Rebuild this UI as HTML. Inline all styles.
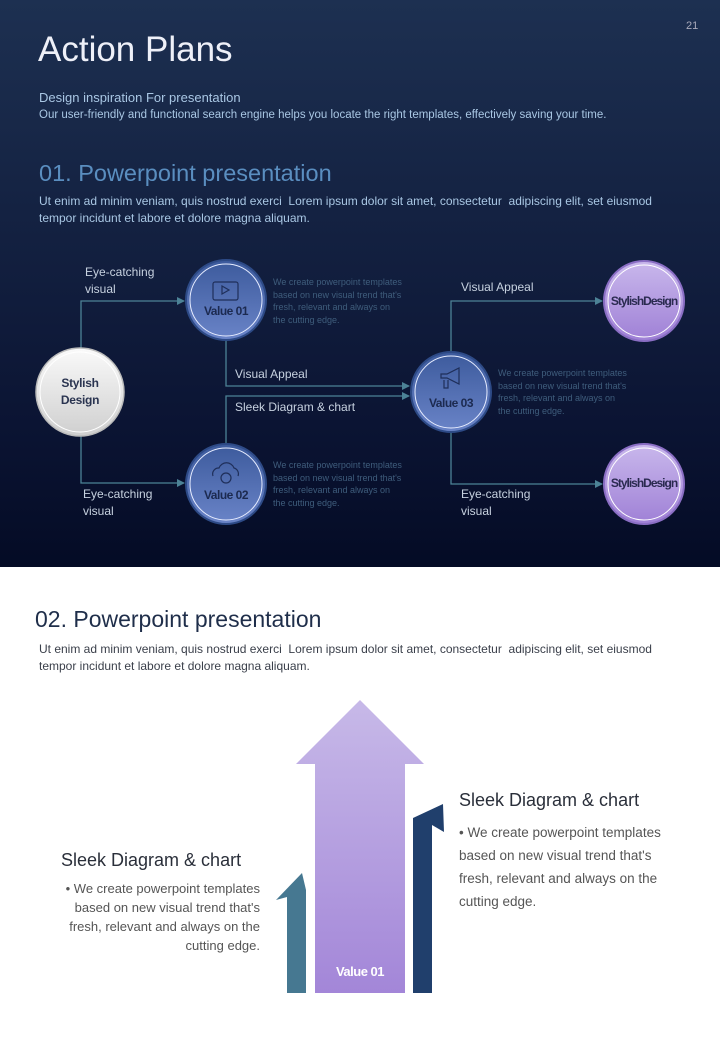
<!DOCTYPE html>
<html><head><meta charset="utf-8"><style>
*{margin:0;padding:0}
body{width:720px;height:1040px;position:relative;background:#fff;font-family:"Liberation Sans Narrow","Liberation Sans",sans-serif;overflow:hidden}
.t{position:absolute;white-space:nowrap}
</style></head><body>
<svg width="720" height="1040" style="position:absolute;left:0;top:0">
<defs>
<linearGradient id="bg" x1="0" y1="0" x2="0" y2="1"><stop offset="0" stop-color="#1d3051"/><stop offset="0.75" stop-color="#0b1433"/><stop offset="1" stop-color="#040b25"/></linearGradient>
<linearGradient id="bl" x1="0" y1="0" x2="0" y2="1"><stop offset="0" stop-color="#3c5a9c"/><stop offset="1" stop-color="#6a84c8"/></linearGradient>
<linearGradient id="wh" x1="0" y1="0" x2="0" y2="1"><stop offset="0" stop-color="#fafafa"/><stop offset="1" stop-color="#cfcfcf"/></linearGradient>
<linearGradient id="pu" x1="0" y1="0" x2="0" y2="1"><stop offset="0" stop-color="#c9b8ec"/><stop offset="1" stop-color="#9f80d6"/></linearGradient>
<linearGradient id="ar" x1="0" y1="0" x2="0" y2="1"><stop offset="0" stop-color="#c7b9e8"/><stop offset="1" stop-color="#a386d8"/></linearGradient>
<marker id="m" markerWidth="8" markerHeight="8" refX="7" refY="4" orient="auto" markerUnits="userSpaceOnUse"><path d="M0,0 L8,4 L0,8z" fill="#4c8296"/></marker>
</defs>
<rect width="720" height="567" fill="url(#bg)"/>
<g stroke="#4c8296" stroke-width="1.3" fill="none">
<path d="M81,350 V301 H184" marker-end="url(#m)"/>
<path d="M81,435 V483 H184" marker-end="url(#m)"/>
<path d="M226,340 V386 H409" marker-end="url(#m)"/>
<path d="M226,444 V396 H409" marker-end="url(#m)"/>
<path d="M451,352 V301 H602" marker-end="url(#m)"/>
<path d="M451,432 V484 H602" marker-end="url(#m)"/>
</g>
<circle cx="80" cy="392" r="44" fill="url(#wh)" stroke="#bbb" stroke-width="1.5"/>
<circle cx="80" cy="392" r="40" fill="none" stroke="#fff" stroke-width="1"/>
<g>
<circle cx="226" cy="300" r="40" fill="url(#bl)" stroke="#2d4a86" stroke-width="2"/><circle cx="226" cy="300" r="36" fill="none" stroke="#e6ecff" stroke-width="1"/>
<circle cx="226" cy="484" r="40" fill="url(#bl)" stroke="#2d4a86" stroke-width="2"/><circle cx="226" cy="484" r="36" fill="none" stroke="#e6ecff" stroke-width="1"/>
<circle cx="451" cy="392" r="40" fill="url(#bl)" stroke="#2d4a86" stroke-width="2"/><circle cx="451" cy="392" r="36" fill="none" stroke="#e6ecff" stroke-width="1"/>
<circle cx="644" cy="301" r="40" fill="url(#pu)" stroke="#8a6ec4" stroke-width="2"/><circle cx="644" cy="301" r="36" fill="none" stroke="#fff" stroke-width="1"/>
<circle cx="644" cy="484" r="40" fill="url(#pu)" stroke="#8a6ec4" stroke-width="2"/><circle cx="644" cy="484" r="36" fill="none" stroke="#fff" stroke-width="1"/>
</g>
<g stroke="#1f2f5a" stroke-width="1.2" fill="none">
<rect x="213" y="282" width="25" height="18" rx="2"/><path d="M222,286 L229,290 L222,294z"/>
<path d="M213,476 a6,6 0 0 1 6,-8 a8,8 0 0 1 15,0 a6,6 0 0 1 4,8"/><circle cx="226" cy="478" r="5"/>
<path d="M441,374 h6 l12,-6 v16 l-12,-6 h-6z M444,380 v8 h4 v-8"/>
</g>
<polygon points="360,700 424,764 405,764 405,993 315,993 315,764 296,764" fill="url(#ar)"/>
<polygon points="287,993 287,897 276,900 302,873 306,890 306,993" fill="#467891"/>
<polygon points="413,993 413,818 443,804 444,832 432,825 432,993" fill="#203f6c"/>
</svg>
<div class="t" style="top:20px;left:686px;font-size:11px;color:#aab">21</div>
<div class="t" style="left:38px;top:30px;font-size:35px;color:#eef0f8">Action Plans</div>
<div class="t" style="left:39px;top:90px;font-size:13px;color:#a9c7e4">Design inspiration For presentation</div>
<div class="t" style="left:39px;top:109px;font-size:11.5px;color:#a9c7e4">Our user-friendly and functional search engine helps you locate the right templates, effectively saving your time.</div>
<div class="t" style="left:39px;top:160px;font-size:23.5px;color:#5a8ec0">01. Powerpoint presentation</div>
<div class="t" style="left:39px;top:193px;font-size:12px;line-height:17px;color:#a9c7e4">Ut enim ad minim veniam, quis nostrud exerci&nbsp; Lorem ipsum dolor sit amet, consectetur&nbsp; adipiscing elit, set eiusmod<br>tempor incidunt et labore et dolore magna aliquam.</div>
<div class="t" style="left:85px;top:264px;font-size:12px;line-height:17px;color:#c7d2e0">Eye-catching<br>visual</div>
<div class="t" style="left:83px;top:486px;font-size:12px;line-height:17px;color:#c7d2e0">Eye-catching<br>visual</div>
<div class="t" style="left:235px;top:367px;font-size:12px;color:#c7d2e0">Visual Appeal</div>
<div class="t" style="left:235px;top:400px;font-size:12px;color:#c7d2e0">Sleek Diagram &amp; chart</div>
<div class="t" style="left:461px;top:280px;font-size:12px;color:#c7d2e0">Visual Appeal</div>
<div class="t" style="left:461px;top:486px;font-size:12px;line-height:17px;color:#c7d2e0">Eye-catching<br>visual</div>
<div class="t" style="left:273px;top:276px;font-size:9px;line-height:12.5px;color:#3f5d7c">We create powerpoint templates<br>based on new visual trend that's<br>fresh, relevant and always on<br>the cutting edge.</div>
<div class="t" style="left:273px;top:459px;font-size:9px;line-height:12.5px;color:#3f5d7c">We create powerpoint templates<br>based on new visual trend that's<br>fresh, relevant and always on<br>the cutting edge.</div>
<div class="t" style="left:498px;top:367px;font-size:9px;line-height:12.5px;color:#3f5d7c">We create powerpoint templates<br>based on new visual trend that's<br>fresh, relevant and always on<br>the cutting edge.</div>
<div class="t" style="left:40px;top:375px;width:80px;text-align:center;font-size:12px;line-height:17px;font-weight:bold;color:#2a3450;letter-spacing:-0.3px">Stylish<br>Design</div>
<div class="t" style="left:196px;top:304px;width:60px;text-align:center;font-size:12px;font-weight:bold;color:#1c2a50;letter-spacing:-0.5px">Value 01</div>
<div class="t" style="left:196px;top:488px;width:60px;text-align:center;font-size:12px;font-weight:bold;color:#1c2a50;letter-spacing:-0.5px">Value 02</div>
<div class="t" style="left:421px;top:396px;width:60px;text-align:center;font-size:12px;font-weight:bold;color:#1c2a50;letter-spacing:-0.5px">Value 03</div>
<div class="t" style="left:604px;top:294px;width:80px;text-align:center;font-size:12px;font-weight:bold;color:#2a2a50;letter-spacing:-1px">StylishDesign</div>
<div class="t" style="left:604px;top:476px;width:80px;text-align:center;font-size:12px;font-weight:bold;color:#2a2a50;letter-spacing:-1px">StylishDesign</div>
<div class="t" style="left:35px;top:606px;font-size:23px;color:#1f2e4a">02. Powerpoint presentation</div>
<div class="t" style="left:39px;top:641px;font-size:12px;line-height:17px;color:#3a3f4a">Ut enim ad minim veniam, quis nostrud exerci&nbsp; Lorem ipsum dolor sit amet, consectetur&nbsp; adipiscing elit, set eiusmod<br>tempor incidunt et labore et dolore magna aliquam.</div>
<div class="t" style="left:459px;top:790px;font-size:18px;color:#2a2f3a">Sleek Diagram &amp; chart</div>
<div class="t" style="left:459px;top:821px;font-size:13.5px;line-height:23px;color:#555">• We create powerpoint templates<br>based on new visual trend that's<br>fresh, relevant and always on the<br>cutting edge.</div>
<div class="t" style="left:61px;top:850px;font-size:18px;color:#2a2f3a">Sleek Diagram &amp; chart</div>
<div class="t" style="left:40px;top:879px;width:220px;text-align:right;font-size:13px;line-height:19px;color:#555">• We create powerpoint templates<br>based on new visual trend that's<br>fresh, relevant and always on the<br>cutting edge.</div>
<div class="t" style="left:315px;top:964px;width:90px;text-align:center;font-size:13px;font-weight:bold;color:#fff;letter-spacing:-0.5px">Value 01</div>
</body></html>
